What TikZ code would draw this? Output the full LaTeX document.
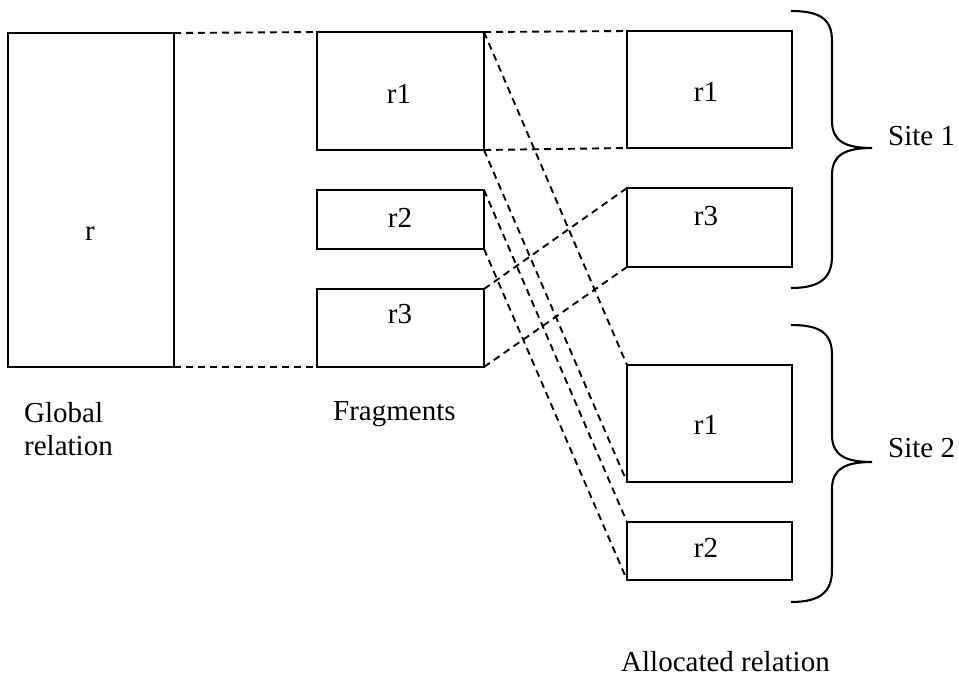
\documentclass[tikz,border=0pt]{standalone}
\usepackage{fontspec}
\setmainfont{Liberation Serif}
\begin{document}
\begin{tikzpicture}[x=1pt,y=-1pt,
  box/.style={draw,line width=2.1pt,rectangle,inner sep=0pt,outer sep=0pt},
  link/.style={line width=1.9pt,dash pattern=on 7pt off 5pt},
  txt/.style={inner sep=0pt,anchor=base,font=\fontsize{29}{33}\selectfont},
  bracestyle/.style={line width=2.1pt},
  sitebrace/.pic={
    \draw[bracestyle] (-81,-137) .. controls (-52,-137) and (-40,-129) .. (-40,-107)
      -- (-40,-27) .. controls (-40,-7) and (-27,0) .. (0,0)
      .. controls (-27,0) and (-40,7) .. (-40,27)
      -- (-40,108) .. controls (-40,130) and (-52,140) .. (-81,140);
  }]
\useasboundingbox (0,0) rectangle (959,678);

% global relation
\node[box,minimum width=166pt,minimum height=334pt] (g) at (91,200) {};
% fragments
\node[box,minimum width=167pt,minimum height=118pt] (f1) at (400.5,91) {};
\node[box,minimum width=167pt,minimum height=59pt]  (f2) at (400.5,219.5) {};
\node[box,minimum width=167pt,minimum height=78pt]  (f3) at (400.5,328) {};
% allocated relation, site 1
\node[box,minimum width=165pt,minimum height=117pt] (a1) at (709.5,89.5) {};
\node[box,minimum width=165pt,minimum height=79pt]  (a3) at (709.5,227.5) {};
% allocated relation, site 2
\node[box,minimum width=165pt,minimum height=117pt] (b1) at (709.5,423.5) {};
\node[box,minimum width=165pt,minimum height=58pt]  (b2) at (709.5,551) {};

% box labels
\node[txt] (gt)  at (90,240)  {r};
\node[txt] (f1t) at (399,103) {r1};
\node[txt] (f2t) at (400,227) {r2};
\node[txt] (f3t) at (400,323) {r3};
\node[txt] (a1t) at (706,101) {r1};
\node[txt] (a3t) at (706,225) {r3};
\node[txt] (b1t) at (706,434) {r1};
\node[txt] (b2t) at (706,557) {r2};

% captions
\node[txt,anchor=base west] (glob) at (24,422) {Global};
\node[txt,anchor=base west] (rel)  at (24,455) {relation};
\node[txt,anchor=base west] (frag) at (333,420) {Fragments};
\node[txt,anchor=base west] (alloc) at (621,671) {Allocated relation};
\node[txt,anchor=base west] (s1) at (888,145) {Site 1};
\node[txt,anchor=base west] (s2) at (888,457) {Site 2};

% braces grouping the sites
\pic at (872,148) {sitebrace};
\pic at (872,462) {sitebrace};

% dashed correspondences
\draw[link] (g.north east) -- (f1.north west);
\draw[link] (g.south east) -- (f3.south west);
\draw[link] (f1.north east) -- (a1.north west);
\draw[link] (f1.south east) -- (a1.south west);
\draw[link] (f1.north east) -- (b1.north west);
\draw[link] (f1.south east) -- (b1.south west);
\draw[link] (f3.north east) -- (a3.north west);
\draw[link] (f3.south east) -- (a3.south west);
\draw[link] (f2.north east) -- (b2.north west);
\draw[link] (f2.south east) -- (b2.south west);
\end{tikzpicture}
\end{document}
